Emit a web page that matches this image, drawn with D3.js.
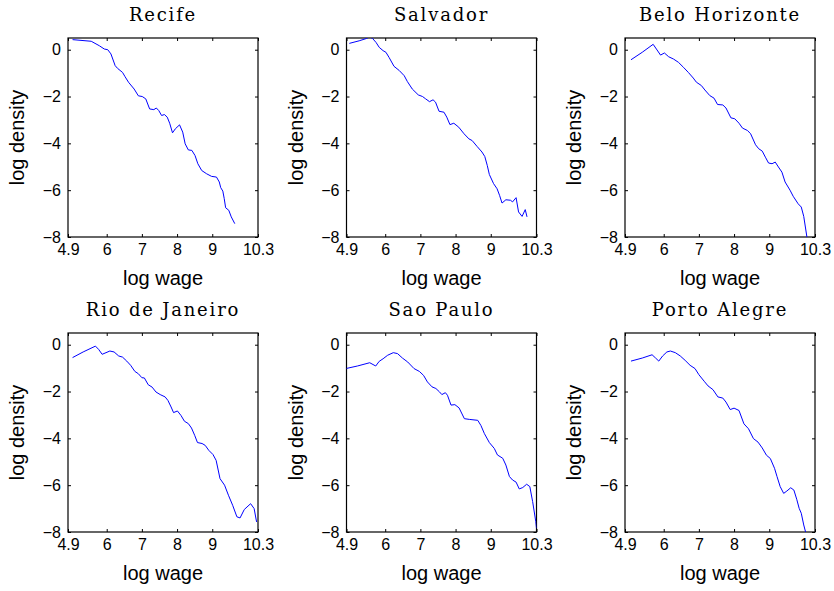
<!DOCTYPE html>
<html lang="en">
<head>
<meta charset="utf-8">
<script src="https://d3js.org/d3.v7.min.js"></script>
<style type="text/css">

body {
	margin: 0;
	background-color: #ffffff;
}

/* Subplot titles */
.title {
	font-family: "DejaVu Serif", serif;
	font-size: 18px;
	letter-spacing: 1.8px;
	fill: #000;
}

.label {
	font-family: "Liberation Sans", Arial, sans-serif;
	font-size: 20px;
	fill: #000;
}

</style>
</head>
<body>
<script type="text/javascript">

// city names, in subplot order
var cities = ["Recife", "Salvador", "Belo Horizonte", "Rio de Janeiro", "Sao Paulo", "Porto Alegre"];

// tick labels
var xTicks = [4.9, 6, 7, 8, 9, 10.3];
var yTicks = [-8, -6, -4, -2, 0];

// log wage / log density pairs
var recife = [[5.03,0.43],[5.56,0.36],[5.79,0.17],[5.93,0.03],[6.03,0.0],[6.12,-0.18],[6.24,-0.68],[6.31,-0.8],[6.45,-0.97],[6.52,-1.15],[6.62,-1.39],[6.78,-1.68],[6.9,-1.97],[7.01,-2.0],[7.11,-2.1],[7.22,-2.53],[7.34,-2.56],[7.41,-2.49],[7.48,-2.6],[7.56,-2.81],[7.64,-2.77],[7.72,-2.88],[7.79,-3.14],[7.87,-3.55],[7.95,-3.38],[8.07,-3.21],[8.16,-3.52],[8.23,-4.02],[8.32,-4.28],[8.42,-4.3],[8.51,-4.52],[8.59,-4.87],[8.7,-5.16],[8.84,-5.3],[8.98,-5.41],[9.12,-5.44],[9.2,-5.65],[9.24,-5.89],[9.3,-6.04],[9.34,-6.36],[9.38,-6.75],[9.47,-6.86],[9.54,-7.14],[9.64,-7.43]];

var salvador = [[4.98,0.27],[5.26,0.38],[5.47,0.48],[5.56,0.55],[5.64,0.48],[5.74,0.31],[5.83,0.1],[5.94,-0.04],[6.02,-0.11],[6.11,-0.33],[6.25,-0.71],[6.4,-0.89],[6.54,-1.11],[6.63,-1.36],[6.77,-1.68],[6.94,-1.93],[7.06,-2.0],[7.15,-2.1],[7.26,-2.22],[7.36,-2.14],[7.43,-2.24],[7.53,-2.63],[7.67,-2.67],[7.75,-2.88],[7.84,-3.2],[7.95,-3.14],[8.09,-3.31],[8.24,-3.59],[8.38,-3.81],[8.47,-3.88],[8.61,-4.13],[8.75,-4.37],[8.83,-4.56],[8.9,-4.94],[8.96,-5.33],[9.08,-5.72],[9.18,-5.94],[9.25,-6.22],[9.32,-6.55],[9.43,-6.41],[9.56,-6.43],[9.62,-6.5],[9.72,-6.32],[9.79,-6.93],[9.89,-7.12],[9.98,-6.83],[10.03,-7.14]];

var beloHorizonte = [[5.07,-0.43],[5.39,-0.11],[5.7,0.23],[5.81,-0.01],[5.91,-0.23],[6.02,-0.14],[6.14,-0.3],[6.28,-0.4],[6.42,-0.54],[6.56,-0.75],[6.7,-0.97],[6.84,-1.21],[6.93,-1.39],[7.07,-1.53],[7.17,-1.72],[7.31,-1.96],[7.43,-2.07],[7.53,-2.34],[7.68,-2.36],[7.77,-2.49],[7.91,-2.91],[8.02,-2.95],[8.14,-3.14],[8.24,-3.35],[8.38,-3.45],[8.47,-3.59],[8.61,-4.06],[8.7,-4.23],[8.8,-4.33],[8.89,-4.59],[8.98,-4.84],[9.08,-4.87],[9.17,-4.8],[9.26,-5.01],[9.36,-5.23],[9.45,-5.65],[9.59,-6.0],[9.68,-6.26],[9.82,-6.58],[9.91,-6.72],[9.98,-7.12],[10.07,-8.0],[10.1,-8.3]];

var rioDeJaneiro = [[5.03,-0.55],[5.33,-0.31],[5.68,-0.06],[5.77,-0.2],[5.87,-0.41],[5.98,-0.34],[6.09,-0.27],[6.21,-0.31],[6.34,-0.48],[6.45,-0.53],[6.57,-0.7],[6.68,-0.88],[6.8,-1.14],[6.9,-1.24],[7.0,-1.41],[7.07,-1.42],[7.18,-1.71],[7.29,-1.81],[7.4,-2.02],[7.52,-2.13],[7.66,-2.23],[7.74,-2.38],[7.83,-2.66],[7.9,-2.9],[8.01,-2.83],[8.11,-3.02],[8.21,-3.27],[8.32,-3.37],[8.41,-3.56],[8.5,-3.87],[8.58,-4.18],[8.71,-4.22],[8.8,-4.3],[8.9,-4.51],[9.02,-4.69],[9.11,-4.94],[9.22,-5.72],[9.35,-6.0],[9.46,-6.43],[9.58,-6.86],[9.7,-7.35],[9.79,-7.4],[9.91,-7.04],[10.09,-6.79],[10.19,-7.0],[10.26,-7.57]];

var saoPaulo = [[4.88,-1.02],[5.21,-0.91],[5.56,-0.77],[5.73,-0.91],[5.83,-0.71],[5.94,-0.6],[6.07,-0.45],[6.23,-0.34],[6.35,-0.38],[6.49,-0.57],[6.64,-0.74],[6.82,-1.02],[6.97,-1.14],[7.09,-1.31],[7.2,-1.59],[7.33,-1.8],[7.44,-1.87],[7.54,-2.01],[7.61,-2.13],[7.71,-2.05],[7.77,-2.16],[7.87,-2.58],[7.98,-2.56],[8.1,-2.7],[8.25,-3.16],[8.39,-3.19],[8.63,-3.23],[8.72,-3.45],[8.82,-3.8],[8.96,-4.18],[9.1,-4.43],[9.19,-4.71],[9.34,-4.85],[9.43,-5.14],[9.53,-5.63],[9.62,-5.78],[9.72,-5.87],[9.81,-6.16],[9.91,-6.1],[10.02,-5.96],[10.11,-6.06],[10.19,-6.7],[10.28,-7.56],[10.3,-7.84]];

var portoAlegre = [[5.07,-0.7],[5.39,-0.57],[5.67,-0.43],[5.77,-0.57],[5.86,-0.7],[5.97,-0.48],[6.09,-0.31],[6.19,-0.27],[6.33,-0.34],[6.47,-0.48],[6.61,-0.67],[6.75,-0.88],[6.89,-1.02],[7.0,-1.28],[7.15,-1.56],[7.26,-1.76],[7.4,-1.92],[7.54,-2.23],[7.68,-2.28],[7.77,-2.45],[7.89,-2.77],[8.0,-2.71],[8.14,-2.81],[8.28,-3.38],[8.41,-3.59],[8.55,-4.01],[8.68,-4.16],[8.8,-4.41],[8.92,-4.72],[9.03,-4.86],[9.15,-5.28],[9.22,-5.63],[9.31,-6.06],[9.41,-6.35],[9.5,-6.25],[9.61,-6.11],[9.7,-6.21],[9.78,-6.6],[9.85,-6.99],[9.91,-7.2],[9.98,-7.7],[10.05,-8.1]];

var series = [recife, salvador, beloHorizonte, rioDeJaneiro, saoPaulo, portoAlegre];

//Width and height of page and of each axes box
var width = 834;
var height = 591;
var boxW = 190;
var boxH = 199;

var svg = d3.select("body")
  .append("svg")
  .attr("width", width)
  .attr("height", height);

// same scales for every panel, positioned by a translate
var x = d3.scaleLinear().domain([4.9, 10.3]).range([0, boxW]);
var y = d3.scaleLinear().domain([-8, 0.5]).range([boxH, 0]);

var line = d3.line()
  .x(function(d) { return x(d[0]); })
  .y(function(d) { return y(d[1]); });

cities.forEach(function(city, i) {
	var col = i % 3, row = Math.floor(i / 3);
	var left = 68 + col * 278.5;
	var top = 38 + row * 295;

	var g = svg.append("g")
		.attr("transform", "translate(" + left + "," + top + ")");

	g.append("clipPath")
		.attr("id", "clip" + i)
		.append("rect")
		.attr("width", boxW)
		.attr("height", boxH);

	// ticks point inwards, MATLAB style, on all four sides
	var xAxis = d3.axisBottom(x).tickValues(xTicks).tickSizeInner(-3).tickSizeOuter(0).tickPadding(6)
		.tickFormat(function(d) { return d; });
	var yAxis = d3.axisLeft(y).tickValues(yTicks).tickSizeInner(-3).tickSizeOuter(0).tickPadding(7);

	g.append("g")
		.attr("class", "x axis")
		.attr("transform", "translate(0," + boxH + ")")
		.call(xAxis);

	g.append("g")
		.attr("class", "y axis")
		.call(yAxis);

	g.append("g")
		.call(d3.axisTop(x).tickValues(xTicks).tickSizeInner(-3).tickSizeOuter(0).tickFormat(""));

	g.append("g")
		.attr("transform", "translate(" + boxW + ",0)")
		.call(d3.axisRight(y).tickValues(yTicks).tickSizeInner(-3).tickSizeOuter(0).tickFormat(""));

	g.selectAll(".domain").remove();
	g.selectAll(".tick line").attr("stroke", "#000");
	g.selectAll(".tick text")
		.style("font-family", "'Liberation Sans', Arial, sans-serif")
		.style("font-size", "16px")
		.attr("fill", "#000");

	g.append("rect")
		.attr("width", boxW)
		.attr("height", boxH)
		.attr("fill", "none")
		.attr("stroke", "#000")
		.attr("stroke-width", 1.2);

	g.append("path")
		.datum(series[i])
		.attr("clip-path", "url(#clip" + i + ")")
		.attr("d", line)
		.attr("fill", "none")
		.attr("stroke", "#0000ff")
		.attr("stroke-width", 1);

	g.selectAll(".x.axis .tick text").attr("dy", "0.72em");

	g.append("text")
		.attr("class", "title")
		.attr("x", boxW / 2)
		.attr("y", -17)
		.attr("text-anchor", "middle")
		.text(city);

	g.append("text")
		.attr("class", "label")
		.attr("x", boxW / 2)
		.attr("y", boxH + 48)
		.attr("text-anchor", "middle")
		.text("log wage");

	g.append("text")
		.attr("class", "label")
		.attr("transform", "translate(-44," + (boxH / 2) + ") rotate(-90)")
		.attr("text-anchor", "middle")
		.text("log density");
});

</script>
</body>
</html>
